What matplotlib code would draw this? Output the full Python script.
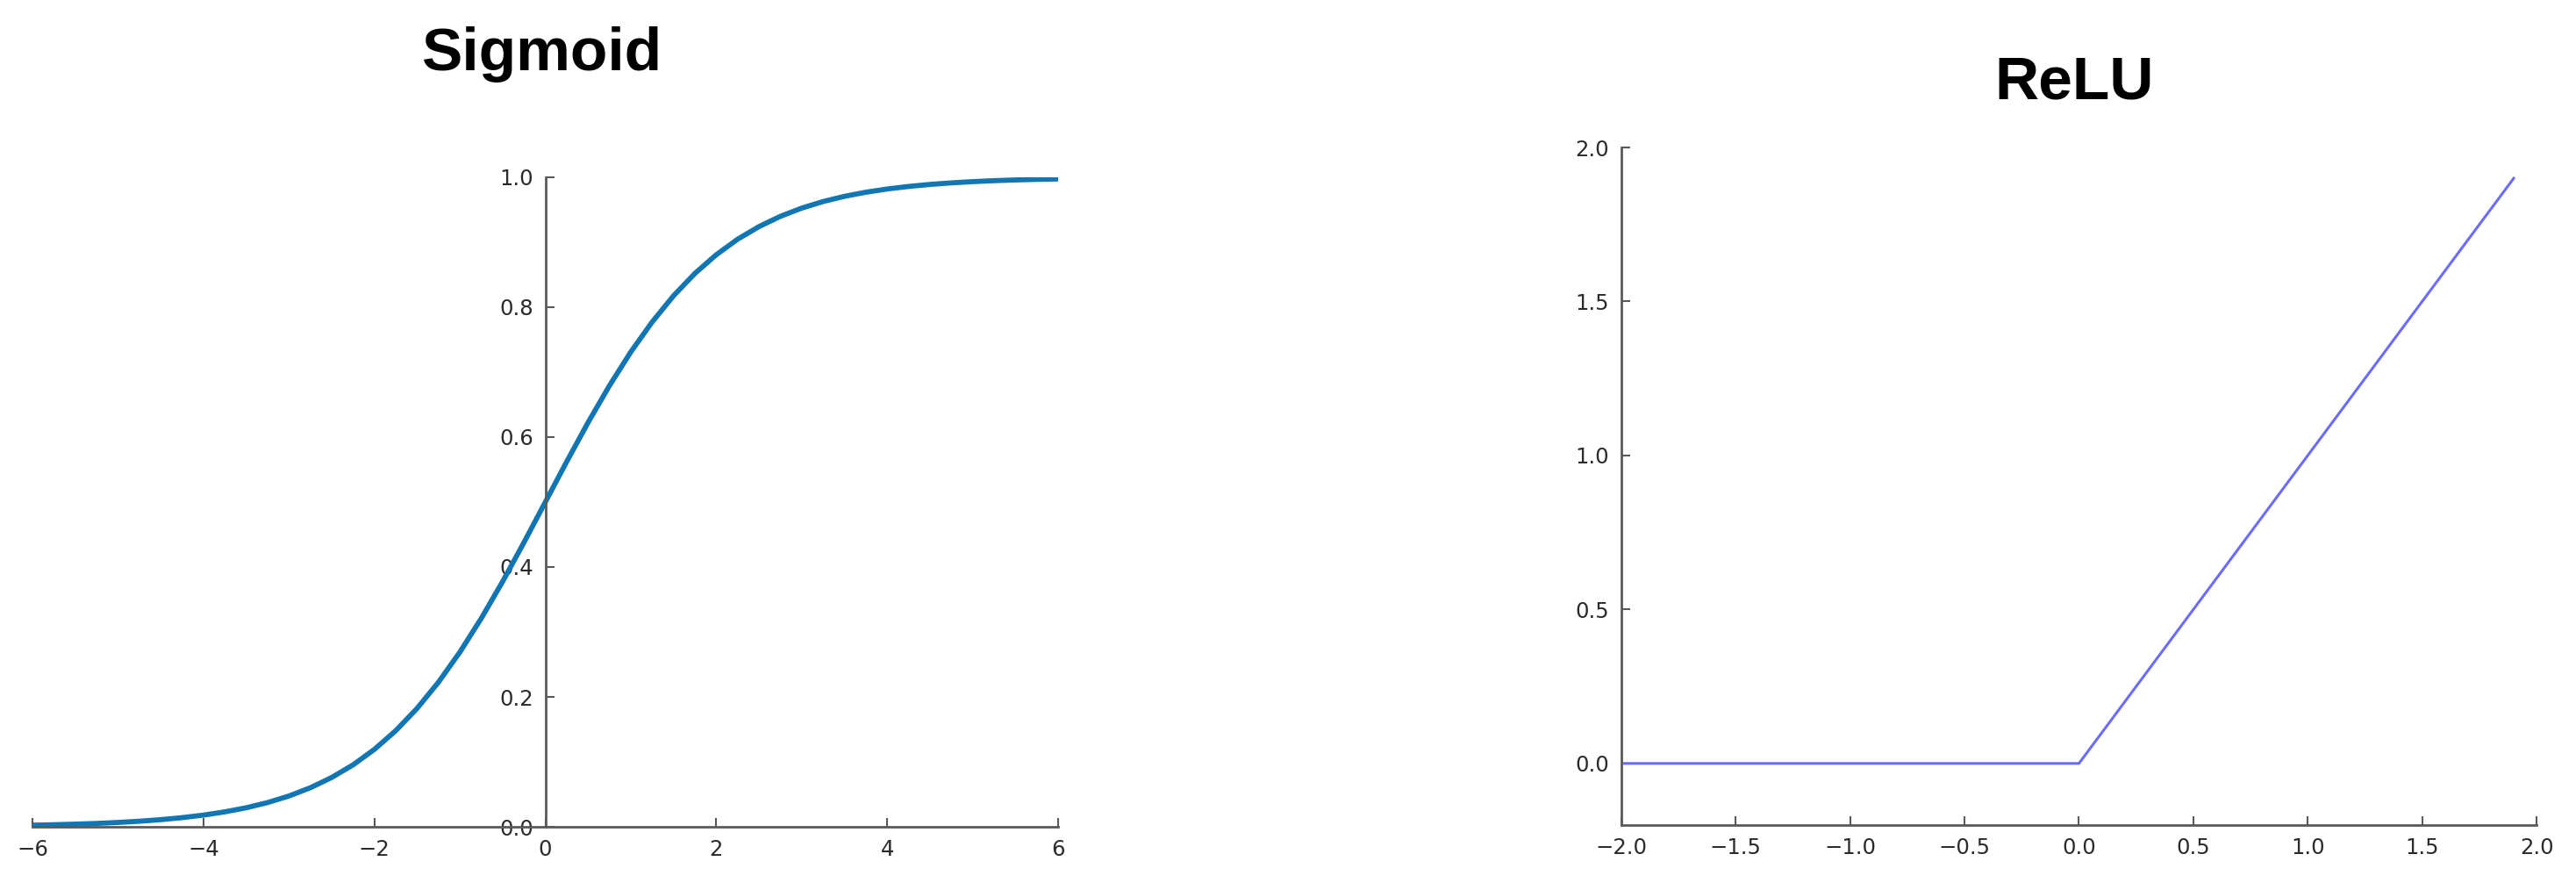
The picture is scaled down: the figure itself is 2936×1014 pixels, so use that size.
import matplotlib
matplotlib.use("Agg")
import matplotlib.pyplot as plt

# sigmoid curve
sig_x = [-6.0, -5.75, -5.5, -5.25, -5.0, -4.75, -4.5, -4.25, -4.0, -3.75, -3.5, -3.25,
         -3.0, -2.75, -2.5, -2.25, -2.0, -1.75, -1.5, -1.25, -1.0, -0.75, -0.5, -0.25,
         0.0, 0.25, 0.5, 0.75, 1.0, 1.25, 1.5, 1.75, 2.0, 2.25, 2.5, 2.75,
         3.0, 3.25, 3.5, 3.75, 4.0, 4.25, 4.5, 4.75, 5.0, 5.25, 5.5, 5.75, 6.0]
sig_y = [0.0025, 0.0032, 0.0041, 0.0052, 0.0067, 0.0086, 0.0110, 0.0141, 0.0180, 0.0230, 0.0293, 0.0373,
         0.0474, 0.0601, 0.0759, 0.0953, 0.1192, 0.1480, 0.1824, 0.2227, 0.2689, 0.3208, 0.3775, 0.4378,
         0.5, 0.5622, 0.6225, 0.6792, 0.7311, 0.7773, 0.8176, 0.8520, 0.8808, 0.9047, 0.9241, 0.9399,
         0.9526, 0.9627, 0.9707, 0.9770, 0.9820, 0.9859, 0.9890, 0.9914, 0.9933, 0.9948, 0.9959, 0.9968, 0.9975]
sig_xticks = [-6, -4, -2, 0, 2, 4, 6]
sig_yticks = [0.0, 0.2, 0.4, 0.6, 0.8, 1.0]

# relu line
relu_x = [-2.0, 0.0, 1.9]
relu_y = [0.0, 0.0, 1.9]
relu_xticks = [-2.0, -1.5, -1.0, -0.5, 0.0, 0.5, 1.0, 1.5, 2.0]
relu_yticks = [0.0, 0.5, 1.0, 1.5, 2.0]

spine_col = '#5a5a5a'
lab_col = '#2a2a2a'

fig = plt.figure(figsize=(29.36, 10.14), dpi=100)

def style(ax):
    ax.spines['top'].set_visible(False)
    ax.spines['right'].set_visible(False)
    for s in ['left', 'bottom']:
        ax.spines[s].set_color(spine_col)
        ax.spines[s].set_linewidth(2)
    ax.tick_params(direction='in', length=7, width=1.5, color=spine_col,
                   labelsize=17.5, labelcolor=lab_col, top=False, right=False, pad=10)

# Sigmoid
ax1 = fig.add_axes([0.0126, 0.0710, 0.3982, 0.7298])
ax1.plot(sig_x, sig_y, color='#1276b2', lw=4.2, solid_capstyle='butt')
ax1.set_xlim(-6, 6)
ax1.set_ylim(0, 1)
style(ax1)
ax1.spines['left'].set_position(('data', 0))
ax1.set_xticks(sig_xticks)
ax1.set_yticks(sig_yticks)
ax1.set_xticklabels(['\u22126', '\u22124', '\u22122', '0', '2', '4', '6'])
ax1.set_yticklabels(['%.1f' % v for v in sig_yticks])

# ReLU
ax2 = fig.add_axes([0.6294, 0.0730, 0.3553, 0.7613])
ax2.plot(relu_x, relu_y, color='#6b6bff', lw=2.2)
ax2.set_xlim(-2, 2)
ax2.set_ylim(-0.2, 2.0)
style(ax2)
ax2.set_xticks(relu_xticks)
ax2.set_yticks(relu_yticks)
ax2.set_xticklabels([('%.1f' % v).replace('-', '\u2212') for v in relu_xticks])
ax2.set_yticklabels(['%.1f' % v for v in relu_yticks])

fig.text(0.2105, 0.9211, 'Sigmoid', ha='center', va='baseline', fontsize=50,
         fontweight='bold', family='Liberation Sans')
fig.text(0.8052, 0.8895, 'ReLU', ha='center', va='baseline', fontsize=50,
         fontweight='bold', family='Liberation Sans')

fig.savefig('out.png', dpi=100, facecolor='white')
